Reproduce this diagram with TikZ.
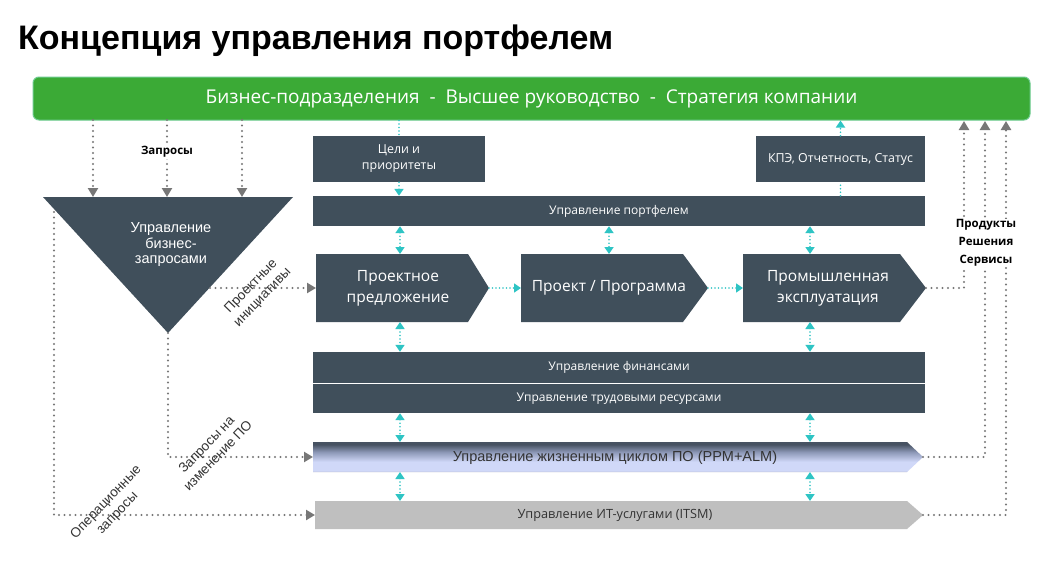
\documentclass[tikz,border=0pt]{standalone}
\usepackage{fontspec}
\setmainfont{Liberation Sans}
\newfontfamily\titlefont{Liberation Sans}
\newfontfamily\boxfont{Open Sans}
\newfontfamily\greenfont{Open Sans}
\usetikzlibrary{arrows.meta}
\definecolor{slate}{HTML}{404F5B}
\definecolor{cyanA}{HTML}{2EC4C4}
\definecolor{grn}{HTML}{3BAA36}
\definecolor{grnborder}{HTML}{6CCB8E}
\definecolor{grayarrow}{HTML}{777777}
\definecolor{lav}{HTML}{D0D8F8}
\definecolor{almtop}{HTML}{475262}
\definecolor{almmid}{HTML}{8E99B8}
\definecolor{almlow}{HTML}{A8AFC0}
\definecolor{itsmgray}{HTML}{BFBFBF}
\definecolor{txtdark}{HTML}{333333}
\pgfdeclareverticalshading{almsh}{100bp}{color(0bp)=(almlow); color(25bp)=(almlow); color(27bp)=(lav); color(42bp)=(lav); color(58bp)=(almmid); color(71bp)=(almtop); color(100bp)=(almtop)}
\begin{document}
\begin{tikzpicture}[x=1pt,y=-1pt,
  darkbox/.style={fill=slate, inner sep=0pt, text=white, align=center, font=\boxfont\fontsize{12.4}{16}\selectfont},
  chevtext/.style={text=white, align=center, inner sep=0pt, font=\boxfont\fontsize{15.5}{21}\selectfont},
  grayarr/.style={draw=grayarrow, line width=2.3pt, dash pattern=on 0pt off 5.5pt, line cap=round, -{Triangle[width=10pt,length=9pt]}},
  cyanarr/.style={draw=cyanA, line width=1.7pt, dash pattern=on 0pt off 3.5pt, line cap=round, -{Triangle[width=9pt,length=7pt]}},
  cyandbl/.style={draw=cyanA, line width=1.7pt, dash pattern=on 0pt off 3.5pt, line cap=round, {Triangle[width=9pt,length=7pt]}-{Triangle[width=9pt,length=7pt]}},
  cyanline/.style={draw=cyanA, line width=1.7pt, dash pattern=on 0pt off 3.5pt, line cap=round},
  rotlabel/.style={rotate=46, align=center, text=txtdark, inner sep=0pt, font=\fontsize{13.5}{16}\selectfont},
  blacklabel/.style={fill=white, text=black, align=center, inner sep=1pt, font=\boxfont\bfseries\fontsize{11.5}{18}\selectfont}]
\useasboundingbox (0,0) rectangle (1055,573);
\fill[white] (0,0) rectangle (1055,573);

% title
\node[anchor=base west, inner sep=0pt, font=\titlefont\bfseries\fontsize{34}{38}\selectfont] (title) at (18,49) {Концепция управления портфелем};

% green bar
\node[draw=grnborder, line width=1pt, fill=grn, rounded corners=6pt, minimum width=997pt, minimum height=43pt, inner sep=0pt, text=white, font=\greenfont\fontsize{19}{22}\selectfont] (green) at (531.5,98.5) {Бизнес-подразделения \ - \ Высшее руководство \ - \ Стратегия компании};

% dark boxes
\node[darkbox, minimum width=172pt, minimum height=46pt] (goals) at (399,159) {Цели и\\приоритеты};
\node[darkbox, minimum width=169pt, minimum height=46pt] (kpi) at (840.5,159) {КПЭ, Отчетность, Статус};
\node[darkbox, font=\boxfont\fontsize{12}{16}\selectfont, minimum width=612pt, minimum height=30pt] (portf) at (619,211) {Управление портфелем};
\node[darkbox, font=\boxfont\fontsize{12}{16}\selectfont, minimum width=612pt, minimum height=31pt] (fin) at (619,367.5) {Управление финансами};
\node[darkbox, font=\boxfont\fontsize{12}{16}\selectfont, minimum width=612pt, minimum height=29pt] (hr) at (619,398.5) {Управление трудовыми ресурсами};

% triangle
\fill[slate] (43,197) coordinate (tl) -- (293,197) coordinate (tr) -- (168,333) coordinate (tapex) -- cycle;
\node[text=white, align=center, inner sep=0pt, font=\fontsize{14.5}{15.5}\selectfont] (bizreq) at (171,245) {Управление\\бизнес-\\запросами};

% chevrons
\fill[slate] (316,254) coordinate (p1nw) -- (468,254) -- (489,288) coordinate (p1tip) -- (468,322) -- (316,322) -- cycle;
\coordinate (p1w) at (316,288);
\node[chevtext] (p1) at (398,288) {Проектное\\предложение};
\fill[slate] (521,254) -- (683,254) -- (708,288) coordinate (p2tip) -- (683,322) -- (521,322) -- cycle;
\coordinate (p2w) at (521,288);
\node[chevtext] (p2) at (609,288) {Проект / Программа};
\fill[slate] (743,254) -- (900,254) -- (926,288) coordinate (p3tip) -- (900,322) -- (743,322) -- cycle;
\coordinate (p3w) at (743,288);
\node[chevtext] (p3) at (828,288) {Промышленная\\эксплуатация};

% ALM bar
\shade[shading=almsh] (313,442) -- (907,442) -- (923,457) -- (907,472) -- (313,472) -- cycle;
\coordinate (almw) at (313,457);
\coordinate (almtip) at (923,457);
\node[text=txtdark, inner sep=0pt, font=\fontsize{14.5}{16}\selectfont] (alm) at (615,458) {Управление жизненным циклом ПО (PPM+ALM)};

% ITSM bar
\fill[itsmgray] (315,501) -- (907,501) -- (923,515) -- (907,529) -- (315,529) -- cycle;
\coordinate (itsmw) at (315,515);
\coordinate (itsmtip) at (923,515);
\node[text=txtdark, inner sep=0pt, font=\boxfont\fontsize{12.7}{14}\selectfont] (itsm) at (615,515) {Управление ИТ-услугами (ITSM)};

% coordinates on bars
\coordinate (g1) at (93,120); \coordinate (g2) at (167,120); \coordinate (g3) at (242,120);
\coordinate (t1) at (93,197); \coordinate (t2) at (167,197); \coordinate (t3) at (242,197);
\coordinate (r1) at (964,121); \coordinate (r2) at (985,121); \coordinate (r3) at (1006,121);
\coordinate (tleft) at (54,212);
\coordinate (tright) at (210,288);

% gray arrows down
\draw[grayarr] (g1) -- (t1);
\draw[grayarr] (g2) -- (t2);
\draw[grayarr] (g3) -- (t3);
\node[blacklabel] (req) at (167,152) {Запросы};

% gray arrows from triangle
\draw[grayarr] (tright) -- (p1w);
\draw[grayarr] (tapex) |- (almw);
\draw[grayarr] (tleft) |- (itsmw);

% right gray arrows up
\draw[grayarr] (p3tip) -| (r1);
\draw[grayarr] (almtip) -| (r2);
\draw[grayarr] (itsmtip) -| (r3);
\node[blacklabel] (prod) at (986,243) {Продукты\\Решения\\Сервисы};

% rotated labels
\node[rotlabel] (projinit) at (257,292) {Проектные\\инициативы};
\node[rotlabel] (chgreq) at (212,450) {Запросы на\\изменение ПО};
\node[rotlabel] (opreq) at (112,508) {Операционные\\запросы};

% cyan connectors
\draw[cyanline] (green.south -| goals.north) -- (goals.north);
\draw[cyanarr] (goals.south) -- (portf.north -| goals.south);
\draw[cyanline] (portf.north -| kpi.south) -- (kpi.south);
\draw[cyanarr] (kpi.north) -- (green.south -| kpi.north);

\coordinate (c1) at (400,0); \coordinate (c2) at (609,0); \coordinate (c3) at (810,0);
\draw[cyandbl] (portf.south -| c1) -- (p1nw -| c1);
\draw[cyandbl] (portf.south -| c2) -- (p1nw -| c2);
\draw[cyandbl] (portf.south -| c3) -- (p1nw -| c3);
\coordinate (chevbot) at (0,322);
\draw[cyandbl] (chevbot -| c1) -- (fin.north -| c1);
\draw[cyandbl] (chevbot -| c3) -- (fin.north -| c3);
\coordinate (almtopc) at (0,442); \coordinate (almbot) at (0,472); \coordinate (itsmtop) at (0,501);
\draw[cyandbl] (hr.south -| c1) -- (almtopc -| c1);
\draw[cyandbl] (hr.south -| c3) -- (almtopc -| c3);
\draw[cyandbl] (almbot -| c1) -- (itsmtop -| c1);
\draw[cyandbl] (almbot -| c3) -- (itsmtop -| c3);

\draw[cyanarr] (p1tip) -- (p2w);
\draw[cyanarr] (p2tip) -- (p3w);
\end{tikzpicture}
\end{document}
